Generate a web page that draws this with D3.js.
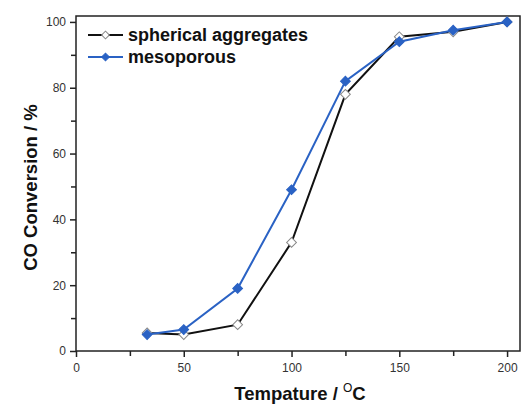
<!DOCTYPE html>
<html>
<head>
<meta charset="utf-8">
<script src="https://cdn.jsdelivr.net/npm/d3@7"></script>
<style>
  body { margin: 0; background: #fff; }
  text { font-family: "Liberation Sans", Arial, sans-serif; }
</style>
</head>
<body>
<div id="vis"></div>
<script>
// values
const temps = [33, 50, 75, 100, 125, 150, 175, 200];
const spherical = [5.5, 5, 8, 33, 78, 95.5, 97, 100];
const mesoporous = [5, 6.5, 19, 49, 82, 94, 97.5, 100];
const xTicks = [0, 50, 100, 150, 200];
const yTicks = [0, 20, 40, 60, 80, 100];
const seriesNames = ['spherical aggregates', 'mesoporous'];

const width = 525, height = 405;
const mLeft = 76, mRight = 520, mTop = 16, mBottom = 351;

const x = d3.scaleLinear().domain([0, 206]).range([mLeft, mRight]);
const y = d3.scaleLinear().domain([0, 101.8]).range([mBottom, mTop]);

const svg = d3.select('#vis').append('svg')
  .attr('width', width).attr('height', height);

// frame
svg.append('rect')
  .attr('x', mLeft).attr('y', mTop)
  .attr('width', mRight - mLeft).attr('height', mBottom - mTop)
  .attr('fill', 'none').attr('stroke', '#222').attr('stroke-width', 1.5);

// axes
svg.append('g')
  .attr('transform', `translate(0,${mBottom})`)
  .call(d3.axisBottom(x).tickValues(xTicks).tickSize(6).tickPadding(6));
svg.append('g')
  .attr('transform', `translate(0,${mBottom})`)
  .call(d3.axisBottom(x).tickValues([25, 75, 125, 175]).tickSize(5).tickFormat(''));

svg.append('g')
  .attr('transform', `translate(${mLeft},0)`)
  .call(d3.axisLeft(y).tickValues(yTicks).tickSize(6).tickPadding(4));
svg.append('g')
  .attr('transform', `translate(${mLeft},0)`)
  .call(d3.axisLeft(y).tickValues([10, 30, 50, 70, 90]).tickSize(5).tickFormat(''));

svg.selectAll('.domain').remove();
svg.selectAll('.tick line').attr('stroke', '#222').attr('stroke-width', 1.5);
svg.selectAll('.tick text')
  .attr('font-size', 12).attr('fill', '#333')
  .style('font-family', '"Liberation Sans", Arial, sans-serif');

// axis titles
svg.append('text')
  .attr('transform', `translate(37,${(mTop + mBottom) / 2 + 4}) rotate(-90)`)
  .attr('text-anchor', 'middle')
  .attr('font-size', 18.5).attr('font-weight', 'bold').attr('fill', '#111')
  .text('CO Conversion / %');

const xt = svg.append('text')
  .attr('x', 300).attr('y', 400)
  .attr('text-anchor', 'middle')
  .attr('font-size', 18.5).attr('font-weight', 'bold').attr('fill', '#111');
xt.append('tspan').text('Tempature / ');
xt.append('tspan').attr('font-size', 12).attr('font-weight', 'normal').attr('dy', -8).text('O');
xt.append('tspan').attr('dy', 8).text('C');

// lines and markers (square turned 45 degrees)
const diamond = d3.symbol().type(d3.symbolSquare).size(48);
const line = d3.line().x(d => x(d[0])).y(d => y(d[1]));

const series = [
  { name: seriesNames[0], values: spherical, color: '#111', fill: '#fff', mstroke: '#888' },
  { name: seriesNames[1], values: mesoporous, color: '#2a62c4', fill: '#2a62c4', mstroke: '#2a62c4' }
];

series.forEach(s => {
  const pts = temps.map((t, i) => [t, s.values[i]]);
  svg.append('path')
    .datum(pts)
    .attr('d', line)
    .attr('fill', 'none')
    .attr('stroke', s.color)
    .attr('stroke-width', 2);
  svg.selectAll(null)
    .data(pts)
    .enter()
    .append('path')
      .attr('d', diamond)
      .attr('transform', d => `translate(${x(d[0])},${y(d[1])}) rotate(45)`)
      .attr('fill', s.fill)
      .attr('stroke', s.mstroke)
      .attr('stroke-width', 1);
});

// legend
const legend = svg.append('g');
series.forEach((s, i) => {
  const ly = 35 + i * 22;
  legend.append('line')
    .attr('x1', 88).attr('x2', 123).attr('y1', ly).attr('y2', ly)
    .attr('stroke', s.color).attr('stroke-width', 2);
  legend.append('path')
    .attr('d', d3.symbol().type(d3.symbolSquare).size(30))
    .attr('transform', `translate(105.5,${ly}) rotate(45)`)
    .attr('fill', s.fill).attr('stroke', s.mstroke).attr('stroke-width', 1);
  legend.append('text')
    .attr('x', 128).attr('y', ly + 6)
    .attr('font-size', 18).attr('font-weight', 'bold').attr('fill', '#111')
    .text(s.name);
});
</script>
</body>
</html>
